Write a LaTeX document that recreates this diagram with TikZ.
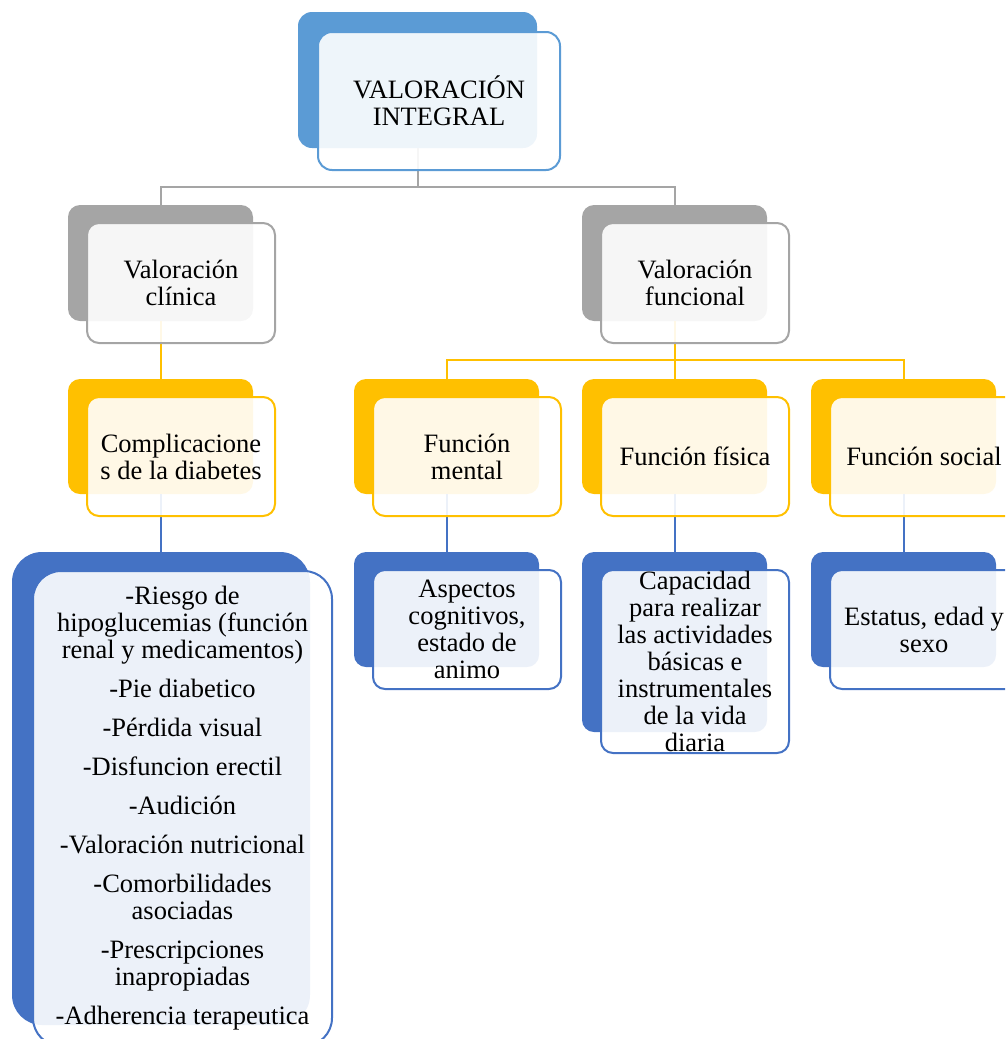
\documentclass[tikz,border=0pt]{standalone}
\usepackage{fontspec}
\setmainfont{Liberation Serif}
\definecolor{topblue}{HTML}{5B9BD5}
\definecolor{lvgrey}{HTML}{A5A5A5}
\definecolor{lvgold}{HTML}{FFC000}
\definecolor{lvblue}{HTML}{4472C4}
\newcommand{\boxfont}{\fontsize{26.5}{27}\selectfont}
\tikzset{
  backbox/.style={fill=#1, rounded corners=12pt, inner sep=0pt, minimum width=185pt, minimum height=116pt},
  frontbox/.style={draw=#1, line width=2pt, rounded corners=12pt, fill=white, fill opacity=0.9, text opacity=1, inner sep=0pt, minimum width=188pt, minimum height=119pt, align=center, font=\boxfont},
  link/.style={draw=#1, line width=2pt},
}
\begin{document}
\begin{tikzpicture}[x=1pt,y=1pt,yscale=-1,xscale=1]
\useasboundingbox (0,0) rectangle (1005,1039);
\clip (0,0) rectangle (1005,1039);
%Back shapes
\node[backbox=topblue, minimum width=239pt, minimum height=136pt, rounded corners=14pt] (topb) at (417.5,80) {};
\node[backbox=lvgrey] (clinb) at (160.5,263) {};
\node[backbox=lvgrey] (funcb) at (674.5,263) {};
\node[backbox=lvgold, minimum height=115pt] (compb) at (160.5,436.5) {};
\node[backbox=lvgold, minimum height=115pt] (mentb) at (446.5,436.5) {};
\node[backbox=lvgold, minimum height=115pt] (fisb) at (674.5,436.5) {};
\node[backbox=lvgold, minimum height=115pt] (socb) at (903.5,436.5) {};
\node[backbox=lvblue, minimum width=298pt, minimum height=473pt, rounded corners=30pt] (listb) at (161,788.5) {};
\node[backbox=lvblue, minimum height=115pt] (aspb) at (446.5,609.5) {};
\node[backbox=lvblue, minimum height=180pt] (capb) at (674.5,642) {};
\node[backbox=lvblue, minimum height=115pt] (estb) at (903.5,609.5) {};
%Connectors
\draw[link=lvgrey] (topb.south) -- ++(0,39) -| (clinb.north);
\draw[link=lvgrey] (topb.south) -- ++(0,39) -| (funcb.north);
\draw[link=lvgold] (clinb.south) -- (compb.north);
\draw[link=lvgold] (funcb.south) -- ++(0,39) -| (mentb.north);
\draw[link=lvgold] (funcb.south) -- ++(0,39) -| (fisb.north);
\draw[link=lvgold] (funcb.south) -- ++(0,39) -| (socb.north);
\draw[link=lvblue] (compb.south) -- (compb.south |- listb.north);
\draw[link=lvblue] (mentb.south) -- (aspb.north);
\draw[link=lvblue] (fisb.south) -- (capb.north);
\draw[link=lvblue] (socb.south) -- (estb.north);
%Front shapes
\node[frontbox=topblue, minimum width=242pt, minimum height=138pt, rounded corners=14pt] (topf) at (439,101) {VALORACIÓN\\INTEGRAL};
\node[frontbox=lvgrey, minimum height=120pt] (clinf) at (181,283) {Valoración\\clínica};
\node[frontbox=lvgrey, minimum height=120pt] (funcf) at (695,283) {Valoración\\funcional};
\node[frontbox=lvgold] (compf) at (181,456.5) {Complicacione\\s de la diabetes};
\node[frontbox=lvgold] (mentf) at (467,456.5) {Función\\mental};
\node[frontbox=lvgold] (fisf) at (695,456.5) {Función física};
\node[frontbox=lvgold] (socf) at (924,456.5) {Función social};
\node[frontbox=lvblue, minimum width=299pt, minimum height=475pt, rounded corners=28pt] (listf) at (182.5,808.5) {-Riesgo de\\hipoglucemias (función\\renal y medicamentos)\\[12pt]-Pie diabetico\\[12pt]-Pérdida visual\\[12pt]-Disfuncion erectil\\[12pt]-Audición\\[12pt]-Valoración nutricional\\[12pt]-Comorbilidades\\asociadas\\[12pt]-Prescripciones\\inapropiadas\\[12pt]-Adherencia terapeutica};
\node[frontbox=lvblue] (aspf) at (467,629.5) {Aspectos\\cognitivos,\\estado de\\animo};
\node[frontbox=lvblue, minimum height=183pt] (capf) at (695,661.5) {Capacidad\\para realizar\\las actividades\\básicas e\\instrumentales\\de la vida\\diaria};
\node[frontbox=lvblue] (estf) at (924,629.5) {Estatus, edad y\\sexo};
\end{tikzpicture}
\end{document}
